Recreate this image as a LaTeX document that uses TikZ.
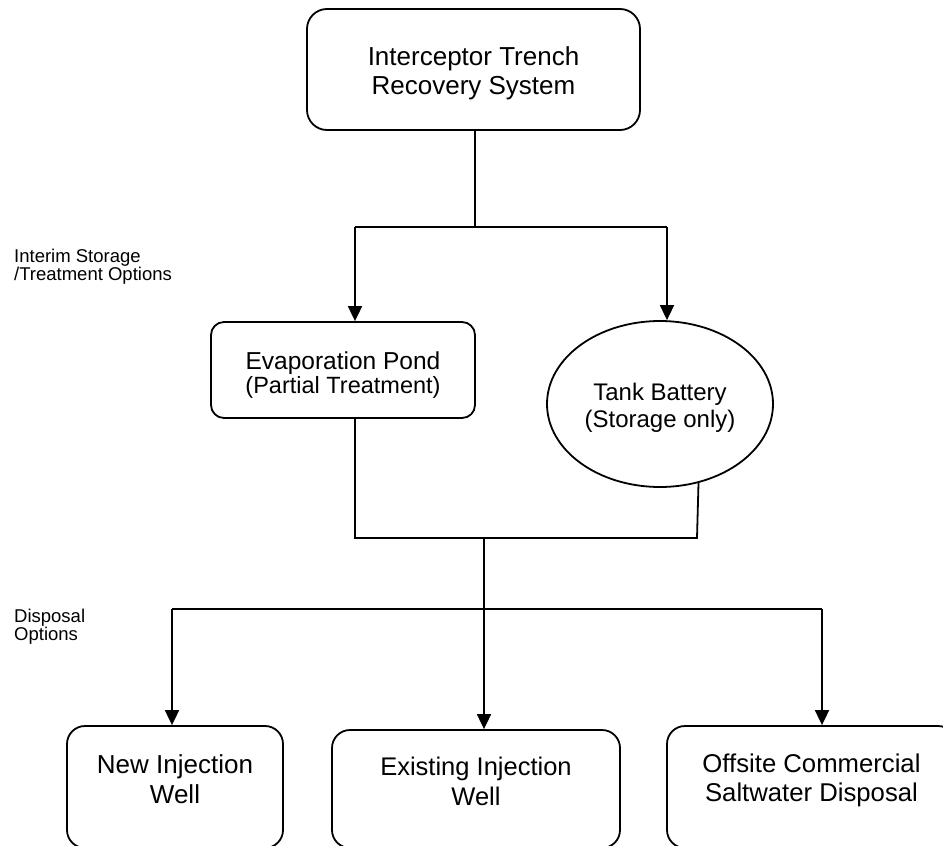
\documentclass[tikz,border=0pt]{standalone}
\usepackage{fontspec}
\setmainfont{Liberation Sans}
\usetikzlibrary{shapes.geometric,arrows.meta}
\begin{document}
\begin{tikzpicture}[x=1pt,y=-1pt,
  box/.style={draw,line width=1.8pt,inner sep=0pt},
  txt/.style={align=center,inner sep=0pt},
  conn/.style={line width=1.8pt},
  arr/.style={conn,-{Triangle[length=15pt,width=14pt]}},
  lbl/.style={font=\fontsize{18.5}{18}\selectfont,align=left,anchor=base west,inner sep=0pt}
]
\useasboundingbox (0,0) rectangle (943,846);
% boxes
\node[box,rounded corners=20pt,minimum width=333pt,minimum height=121pt] (top) at (473.5,69.5) {};
\node[txt,font=\fontsize{26}{29}\selectfont] (topT) at (473.5,73) {Interceptor Trench\\Recovery System};
\node[box,rounded corners=13pt,minimum width=264pt,minimum height=96pt] (evap) at (343,370) {};
\node[txt] (evapT) at (343,375)
  {\fontsize{24.5}{29}\selectfont Evaporation Pond\\\fontsize{23.5}{29}\selectfont (Partial Treatment)};
\node[box,ellipse,minimum width=226pt,minimum height=166pt] (tank) at (660,404) {};
\node[txt,font=\fontsize{24}{27}\selectfont] (tankT) at (660,408) {Tank Battery\\(Storage only)};
\node[box,rounded corners=18pt,minimum width=216pt,minimum height=122pt] (newwell) at (175,787) {};
\node[txt,font=\fontsize{26}{30}\selectfont] (newwellT) at (175,779) {New Injection\\Well};
\node[box,rounded corners=18pt,minimum width=288pt,minimum height=118pt] (exist) at (476,789) {};
\node[txt,font=\fontsize{25.5}{30}\selectfont] (existT) at (476,781) {Existing Injection\\Well};
\node[box,rounded corners=18pt,minimum width=289pt,minimum height=122pt] (offsite) at (811.5,787) {};
\node[txt,font=\fontsize{25.7}{29}\selectfont] (offsiteT) at (811.5,780) {Offsite Commercial\\Saltwater Disposal};
% labels
\node[lbl] (l1) at (14,280) {Interim Storage\\/Treatment Options};
\node[lbl] (l2) at (14,640) {Disposal\\Options};
% connectors
\coordinate (a1) at (355,227);
\coordinate (a2) at (667,227);
\coordinate (a0) at (475,227);
\draw[conn] (top.south -| a0) -- (a0);
\draw[conn] (a1) -- (a2);
\draw[arr] (a1) -- (a1 |- evap.north);
\draw[arr] (a2) -- (a2 |- tank.north);
\coordinate (b1) at (355,538);
\coordinate (b2) at (697,538);
\draw[conn] (b1 |- evap.south) -- (b1) -- (b2) -- (tank.-64.6);
\coordinate (c1) at (484,538);
\draw[arr] (c1) -- (c1 |- exist.north);
\coordinate (d1) at (172,609);
\coordinate (d2) at (822,609);
\draw[conn] (d1) -- (d2);
\draw[arr] (d1) -- (d1 |- newwell.north);
\draw[arr] (d2) -- (d2 |- offsite.north);
\end{tikzpicture}
\end{document}
